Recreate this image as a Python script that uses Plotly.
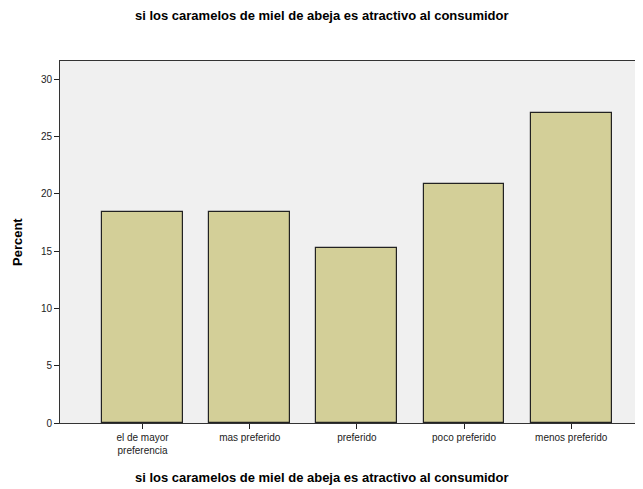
import plotly.graph_objects as go

# Frequencies
categorias = ["el de mayor<br>preferencia", "mas preferido", "preferido",
              "poco preferido", "menos preferido"]
porcentajes = [18.4, 18.4, 15.3, 20.9, 27.1]
y_ticks = [0, 5, 10, 15, 20, 25, 30]

titulo = "si los caramelos de miel de abeja es atractivo al consumidor"

# the page body adds an 8px margin, so the figure is drawn smaller
fig = go.Figure(
    go.Bar(x=list(range(len(categorias))),
           y=porcentajes,
           width=0.755,
           marker_color="#d3cf98",
           marker_line_color="#222222",
           marker_line_width=1.2,
           showlegend=False))

fig.update_layout(width=635, height=481,
                  margin=dict(t=53, b=66, l=52, r=0),
                  paper_bgcolor="white",
                  plot_bgcolor="#f0f0f0",
                  font=dict(family="Liberation Sans, Arial", size=10, color="#222222"),
                  bargap=0)

fig.update_xaxes(range=[-0.77, 4.67],
                 tickvals=list(range(len(categorias))),
                 ticktext=categorias,
                 ticks="outside", ticklen=5, tickwidth=1, tickcolor="#222222",
                 showline=True, linecolor="#333333", linewidth=1, mirror=True,
                 showgrid=False, zeroline=False, tickfont_size=10)
fig.update_yaxes(range=[0, 31.6],
                 tickvals=y_ticks,
                 ticks="outside", ticklen=5, tickwidth=1, tickcolor="#222222",
                 showline=True, linecolor="#333333", linewidth=1,
                 showgrid=False, zeroline=False, tickfont_size=10)

fig.add_annotation(text="<b>" + titulo + "</b>", xref="paper", yref="paper",
                   x=(322 - 60) / 583, y=(423 - 15) / 362, showarrow=False,
                   xanchor="center", yanchor="middle",
                   font=dict(size=13, color="black"))
fig.add_annotation(text="<b>" + titulo + "</b>", xref="paper", yref="paper",
                   x=(322 - 60) / 583, y=(423 - 477) / 362, showarrow=False,
                   xanchor="center", yanchor="middle",
                   font=dict(size=13, color="black"))
fig.add_annotation(text="<b>Percent</b>", xref="paper", yref="paper",
                   x=(17 - 60) / 583, y=(423 - 242) / 362, showarrow=False,
                   xanchor="center", yanchor="middle",
                   textangle=-90, font=dict(size=13, color="black"))

fig.write_html("out.html")
